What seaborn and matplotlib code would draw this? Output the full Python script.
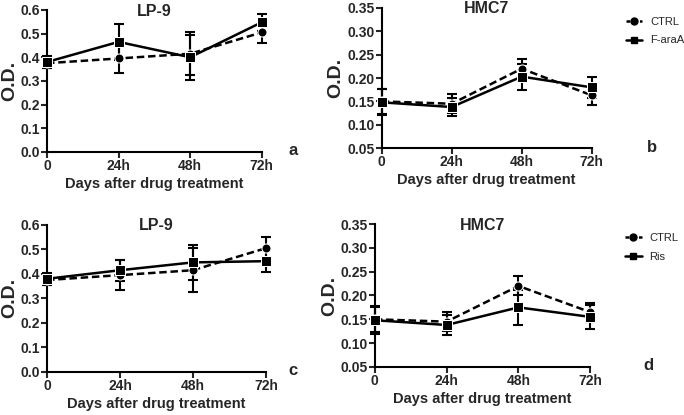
import matplotlib
matplotlib.use("Agg")
import matplotlib.pyplot as plt
from matplotlib.lines import Line2D
import seaborn as sns
import pandas as pd
import numpy as np

sns.set_theme(style="ticks")
plt.rcParams['font.family'] = ['Liberation Sans', 'DejaVu Sans']
plt.rcParams['font.weight'] = 'bold'

hours = [0, 24, 48, 72]
tick_labels = ["0", "24h", "48h", "72h"]

# Panel a: LP-9, CTRL vs F-araA
a_ctrl = [0.375, 0.395, 0.415, 0.505]
a_ctrl_err = [0.022, 0.060, 0.090, 0.045]
a_drug = [0.380, 0.465, 0.400, 0.548]
a_drug_err = [0.025, 0.075, 0.095, 0.037]

# Panel b: HMC7, CTRL vs F-araA
b_ctrl = [0.150, 0.145, 0.220, 0.163]
b_ctrl_err = [0.027, 0.020, 0.020, 0.020]
b_drug = [0.148, 0.138, 0.203, 0.180]
b_drug_err = [0.028, 0.020, 0.028, 0.022]

# Panel c: LP-9, CTRL vs Ris
c_ctrl = [0.375, 0.395, 0.415, 0.505]
c_ctrl_err = [0.022, 0.060, 0.090, 0.047]
c_drug = [0.380, 0.415, 0.447, 0.452]
c_drug_err = [0.025, 0.042, 0.073, 0.046]

# Panel d: HMC7, CTRL vs Ris
d_ctrl = [0.150, 0.145, 0.220, 0.165]
d_ctrl_err = [0.027, 0.020, 0.020, 0.020]
d_drug = [0.148, 0.138, 0.175, 0.155]
d_drug_err = [0.028, 0.022, 0.037, 0.026]

panels = [
    dict(title="LP-9", letter="a", drug="F-araA", ctrl=a_ctrl, ctrl_err=a_ctrl_err,
         dv=a_drug, dv_err=a_drug_err, ylim=(0, 0.6), yticks=np.arange(0, 0.61, 0.1), fmt="%.1f",
         pos=[0.0687, 0.634, 0.314, 0.342], legend=False, lpos=(1.144, -0.04)),
    dict(title="HMC7", letter="b", drug="F-araA", ctrl=b_ctrl, ctrl_err=b_ctrl_err,
         dv=b_drug, dv_err=b_drug_err, ylim=(0.05, 0.35), yticks=np.arange(0.05, 0.351, 0.05), fmt="%.2f",
         pos=[0.558, 0.643, 0.307, 0.338], legend=True, lpos=(1.286, -0.05)),
    dict(title="LP-9", letter="c", drug="Ris", ctrl=c_ctrl, ctrl_err=c_ctrl_err,
         dv=c_drug, dv_err=c_drug_err, ylim=(0, 0.6), yticks=np.arange(0, 0.61, 0.1), fmt="%.1f",
         pos=[0.0687, 0.104, 0.320, 0.354], legend=False, lpos=(1.123, -0.04)),
    dict(title="HMC7", letter="d", drug="Ris", ctrl=d_ctrl, ctrl_err=d_ctrl_err,
         dv=d_drug, dv_err=d_drug_err, ylim=(0.05, 0.35), yticks=np.arange(0.05, 0.351, 0.05), fmt="%.2f",
         pos=[0.548, 0.116, 0.315, 0.344], legend=True, lpos=(1.27, -0.04)),
]

fig = plt.figure(figsize=(6.84, 4.15), dpi=100)

for p in panels:
    ax = fig.add_axes(p["pos"])
    df = pd.DataFrame({
        "hour": hours * 2,
        "od": p["ctrl"] + p["dv"],
        "err": p["ctrl_err"] + p["dv_err"],
        "group": ["CTRL"] * 4 + [p["drug"]] * 4,
    })
    sns.lineplot(data=df, x="hour", y="od", hue="group", style="group",
                 palette=["black", "black"], markers={"CTRL": "o", p["drug"]: "s"},
                 dashes={"CTRL": (3, 1.5), p["drug"]: ""}, markersize=6.5, linewidth=1.8,
                 ax=ax, legend=False, clip_on=False, zorder=3)
    for g, sub in df.groupby("group"):
        ax.errorbar(sub["hour"], sub["od"], yerr=sub["err"], fmt="none", ecolor="black",
                    elinewidth=1.5, capsize=3.5, capthick=1.5, clip_on=False, zorder=2)
    ax.set_xlim(0, 72)
    ax.set_ylim(*p["ylim"])
    ax.set_xticks(hours)
    ax.set_xticklabels(tick_labels)
    ax.set_yticks(p["yticks"])
    ax.set_yticklabels([p["fmt"] % v for v in p["yticks"]])
    ax.tick_params(axis="both", labelsize=10, width=1.5, length=4, direction="out", pad=1)
    for lab in ax.get_xticklabels() + ax.get_yticklabels():
        lab.set_fontweight("bold")
    for s in ["top", "right"]:
        ax.spines[s].set_visible(False)
    for s in ["left", "bottom"]:
        ax.spines[s].set_linewidth(1.5)
        ax.spines[s].set_color("black")
    ax.set_xlabel("Days after drug treatment", fontsize=10.5, fontweight="bold", labelpad=3)
    ax.set_ylabel("O.D.", fontsize=14, fontweight="bold", labelpad=2)
    ax.set_title(p["title"], fontsize=11.5, fontweight="bold", pad=-4, y=1.0)
    ax.text(p["lpos"][0], p["lpos"][1], p["letter"], transform=ax.transAxes, fontsize=12,
            fontweight="bold", ha="center", va="bottom")
    if p["legend"]:
        handles = [
            Line2D([], [], color="black", lw=1.8, ls=(0, (1.5, 1.2)), marker="o", markersize=5),
            Line2D([], [], color="black", lw=1.8, ls="-", marker="s", markersize=5),
        ]
        leg = ax.legend(handles, ["CTRL", p["drug"]], loc="upper left",
                        bbox_to_anchor=(1.14, 0.97), frameon=False,
                        fontsize=8, handlelength=1.5, handletextpad=0.7, labelspacing=0.8,
                        borderaxespad=0)
        for t in leg.get_texts():
            t.set_fontweight("normal")

fig.savefig("out.png", dpi=100)
